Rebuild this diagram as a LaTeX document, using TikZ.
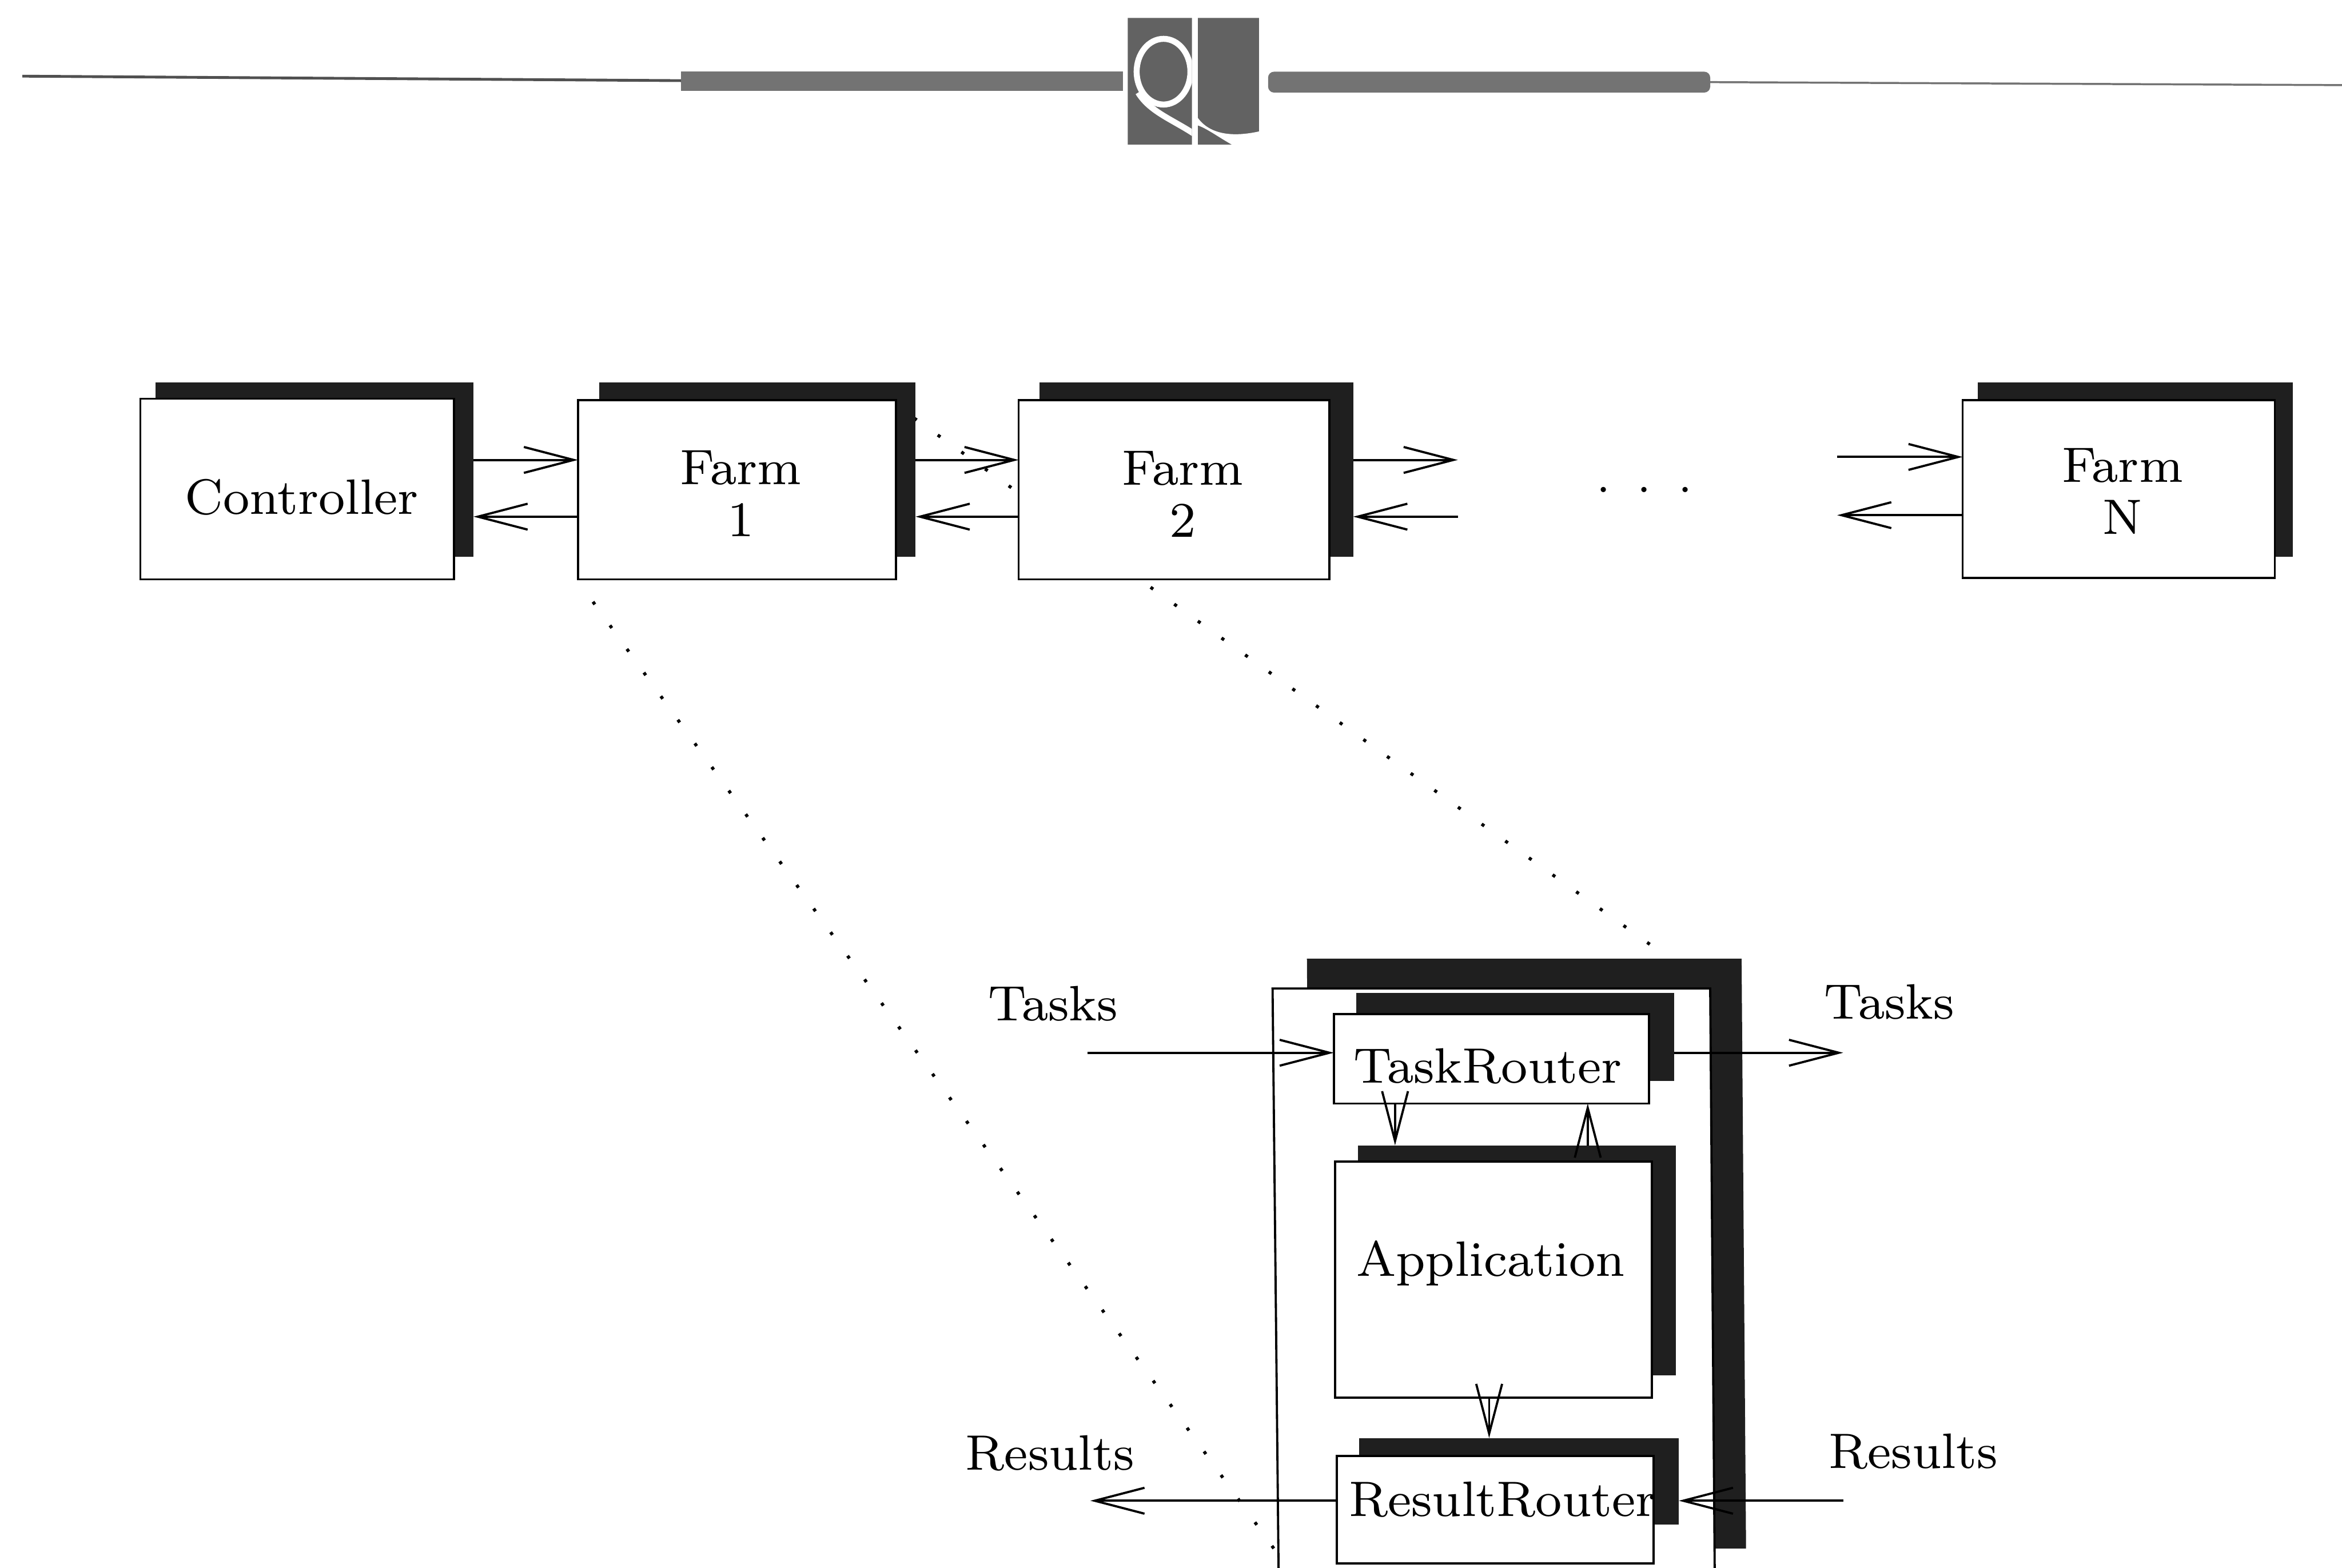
\documentclass[tikz,border=0pt]{standalone}
\usepackage{fontspec}
\usetikzlibrary{arrows.meta}
\newfontface\labelfont{lmroman8-regular.otf}
\definecolor{shade}{rgb}{0.12,0.12,0.12}
\definecolor{band}{rgb}{0.45,0.45,0.45}
\tikzset{every picture/.style={line width=0.75pt}}
\tikzset{
  box/.style 2 args={draw,fill=white,line width=1.1pt,inner sep=0pt,outer sep=0pt,minimum width=#1*0.75pt,minimum height=#2*0.75pt},
  boxshade/.style 2 args={fill=shade,inner sep=0pt,outer sep=0pt,minimum width=#1*0.75pt,minimum height=#2*0.75pt},
  conn/.style={line width=1.1pt,-{Straight Barb[length=25pt,width=13pt]}},
  linkdots/.style={line width=1.6pt,dash pattern=on 1.6pt off 13pt},
  txt/.style={font=\labelfont\fontsize{25}{26}\selectfont,inner sep=0pt}
}
\begin{document}
\begin{tikzpicture}[x=0.75pt,y=0.75pt,yscale=-1]
\useasboundingbox (0,0) rectangle (1568,1050);

%Straight Lines: header rule
\draw [color=band!70!black,line width=1.4pt] (15,51) -- (456,54) ;
\draw [color=band,line width=1pt] (1145,55) -- (1568,57) ;
%Shape: Rectangle: header bars
\fill [color=band] (456,48) -- (752,48) -- (752,61) -- (456,61) -- cycle ;
\fill [color=band,rounded corners=3pt] (849,48) -- (1145,48) -- (1145,62) -- (849,62) -- cycle ;
%Shape: logo
\begin{scope}
\clip (755,12) rectangle (798,97) (802,12) rectangle (843,97);
\fill [color=band!85!black] (755,12) rectangle (843,97) ;
\draw [white,line width=3pt] (779,48) circle [x radius=18, y radius=22] ;
\draw [white,line width=3pt] (762,62) .. controls (770,75) and (785,80) .. (800,90) ;
\fill [white] (802,79) .. controls (810,90) and (825,92) .. (843,88) -- (843,97) -- (825,97) .. controls (816,92) and (808,86) .. (802,84) -- cycle ;
\end{scope}

%Straight Lines: zoom lines
\draw [linkdots] (612,280) -- (1118,642) ;
\draw [linkdots] (397,403) -- (855,1040) ;

%Row of boxes
\node [boxshade={213}{117}] (ctrlshade) at (210.5,314.5) {};
\node [box={210}{121}] (ctrl) at (199,327.5) {};
\node [boxshade={212}{117}] (farmashade) at (507,314.5) {};
\node [box={213}{120}] (farma) at (493.5,328) {};
\node [boxshade={210}{117}] (farmbshade) at (801,314.5) {};
\node [box={208}{120}] (farmb) at (786,328) {};
\node [boxshade={211}{117}] (farmnshade) at (1429.5,314.5) {};
\node [box={209}{119}] (farmn) at (1418.5,327.5) {};

%Shape: router block, runs off the page
\fill [color=shade] (875,642) -- (1166,642) -- (1169,1037) -- (878,1037) -- cycle ;
\draw [fill=white,line width=1.1pt] (856,1050) -- (852,662) -- (1145,662) -- (1148,1050) ;

\node [boxshade={213}{59}] (routershade) at (1014.5,694.5) {};
\node [box={211}{60}] (router) at (998.5,709) {};
\node [boxshade={213}{154}] (appshade) at (1015.5,844) {};
\node [box={212}{158}] (app) at (1000,857) {};
\node [boxshade={214}{58}] (resultshade) at (1017,992) {};
\node [box={212}{72}] (result) at (1001,1011) {};

%Connector rows and free ends
\coordinate (rowup) at (0,308);
\coordinate (rowdown) at (0,346);
\coordinate (rowtask) at (0,705);
\coordinate (rowresult) at (0,1005);
\coordinate (coldown) at (934,0);
\coordinate (colup) at (1063,0);
\coordinate (colout) at (997,0);
\coordinate (farmbout) at (976,308);
\coordinate (farmbin) at (976,346);
\coordinate (farmnin) at (1230,306);
\coordinate (farmnout) at (1230,345);
\coordinate (taskin) at (728,705);
\coordinate (taskout) at (1234,705);
\coordinate (resultin) at (1234,1005);
\coordinate (resultout) at (730,1005);

%Straight Lines
\draw [conn] (ctrlshade.east |- rowup) -- (farma.west |- rowup) ;
\draw [conn] (farma.west |- rowdown) -- (ctrlshade.east |- rowdown) ;
\draw [conn] (farmashade.east |- rowup) -- (farmb.west |- rowup) ;
\draw [conn] (farmb.west |- rowdown) -- (farmashade.east |- rowdown) ;
\draw [conn] (farmbshade.east |- rowup) -- (farmbout) ;
\draw [conn] (farmbin) -- (farmbshade.east |- rowdown) ;
\draw [conn] (farmnin) -- (farmn.west |- farmnin) ;
\draw [conn] (farmn.west |- farmnout) -- (farmnout) ;
\draw [conn] (taskin) -- (router.west |- rowtask) ;
\draw [conn] (routershade.east |- rowtask) -- (taskout) ;
\draw [conn] (router.south -| coldown) -- (appshade.north -| coldown) ;
\draw [conn] (appshade.north -| colup) -- (router.south -| colup) ;
\draw [conn] (app.south -| colout) -- (resultshade.north -| colout) ;
\draw [conn] (resultin) -- (resultshade.east |- rowresult) ;
\draw [conn] (result.west |- rowresult) -- (resultout) ;

% Text Node
\draw (202,333) node [txt] (ctrltxt) {Controller};
% Text Node
\draw (496,330.5) node [txt,align=center] (farmatxt) {Farm\\1};
% Text Node
\draw (792,331) node [txt,align=center] (farmbtxt) {Farm\\2};
% Text Node
\draw (1421,329) node [txt,align=center] (farmntxt) {Farm\\N};
% Text Node
\draw (1101,329) node [txt] (gaptxt) {$\cdot\hskip 8pt\cdot\hskip 8pt\cdot$};
% Text Node
\draw (705,672) node [txt] (taskintxt) {Tasks};
% Text Node
\draw (1265,671) node [txt] (taskouttxt) {Tasks};
% Text Node
\draw (703,973) node [txt] (resultouttxt) {Results};
% Text Node
\draw (1281,972) node [txt] (resultintxt) {Results};
% Text Node
\draw (996,714) node [txt] (routertxt) {TaskRouter};
% Text Node
\draw (998,846) node [txt] (apptxt) {Application};
% Text Node
\draw (1006,1004) node [txt] (resulttxt) {ResultRouter};

\end{tikzpicture}
\end{document}
